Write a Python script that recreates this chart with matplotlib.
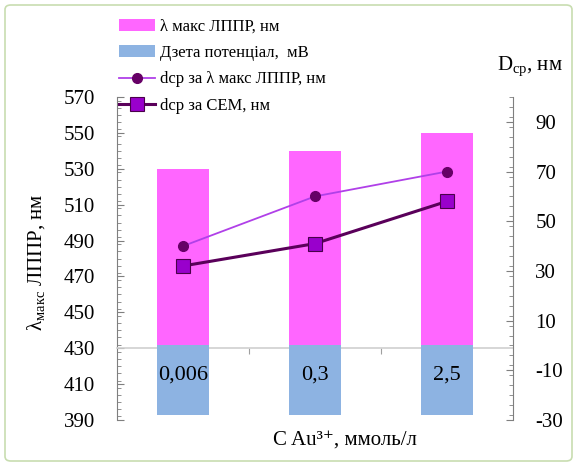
import numpy as np
import matplotlib.pyplot as plt
from matplotlib.ticker import MultipleLocator
from matplotlib.patches import FancyBboxPatch
from matplotlib.transforms import blended_transform_factory

plt.rcParams['font.family'] = ['Liberation Serif', 'DejaVu Serif']
plt.rcParams['mathtext.fontset'] = 'custom'
plt.rcParams['mathtext.rm'] = 'Liberation Serif'
plt.rcParams['mathtext.it'] = 'Liberation Serif:italic'
plt.rcParams['axes.unicode_minus'] = False

# data
conc = ['0,006', '0,3', '2,5']
lam_max = [530, 540, 550]          # λ макс ЛППР, нм (left axis)
zeta = [-28, -28, -28]             # Дзета потенціал, мВ (right axis)
d_lam = [40, 60, 70]               # dcp за λ макс ЛППР, нм (right axis)
d_sem = [32, 41, 58]               # dcp за СЕМ, нм (right axis)

x = np.arange(len(conc))
base = 430

fig = plt.figure(figsize=(5.77, 4.66), dpi=100)
ax = fig.add_axes([117/577, 1-420/466, 396/577, 323/466])
ax2 = ax.twinx()

bars1 = ax.bar(x, np.array(lam_max) - base, bottom=base, width=0.4,
               color='#ff66ff', zorder=2)
bars2 = ax2.bar(x, zeta, width=0.4, color='#8db3e2', zorder=2)
l1, = ax2.plot(x, d_lam, color='#b040e8', lw=1.3, marker='o', ms=7,
               mfc='#660066', mec='#660066', zorder=4)
l2, = ax2.plot(x, d_sem, color='#5a005a', lw=2.2, marker='s', ms=10,
               mfc='#9900cc', mec='#4a004a', mew=0.8, zorder=4)

ax.set_xlim(-0.5, 2.5)
ax.set_ylim(390, 570)
ax2.set_ylim(-30, 100)
ax.set_yticks(np.arange(390, 571, 20))
ax2.set_yticks(np.arange(-30, 91, 20))
ax.yaxis.set_minor_locator(MultipleLocator(4))
ax2.yaxis.set_minor_locator(MultipleLocator(4))

for s in ['top', 'right']:
    ax.spines[s].set_visible(False)
for s in ['top', 'left', 'bottom']:
    ax2.spines[s].set_visible(False)
ax.spines['left'].set_color('#7f7f7f')
ax2.spines['right'].set_color('#7f7f7f')
ax.spines['bottom'].set_position(('data', base))
ax.spines['bottom'].set_color('#d0d0d0')
ax.spines['bottom'].set_linewidth(1.2)

ax.tick_params(axis='y', which='major', direction='in', length=5,
               color='#7f7f7f', labelsize=15, pad=16)
ax.tick_params(axis='y', which='minor', direction='in', length=3,
               color='#7f7f7f')
ax2.tick_params(axis='y', which='major', direction='in', length=5,
                color='#7f7f7f', labelsize=15, pad=16)
ax2.tick_params(axis='y', which='minor', direction='in', length=3,
                color='#7f7f7f')

ax.set_xticks([0.5, 1.5])
ax.set_xticklabels([])
ax.tick_params(axis='x', which='major', direction='out', length=4,
               color='#9f9f9f')

# category labels sit on top of the zeta bars, so draw them on the twin axes
trans = blended_transform_factory(ax2.transData, ax2.transAxes)
for xi, lab in zip(x, conc):
    ax2.text(xi, (420-375)/323, lab, transform=trans, ha='center',
             va='center', fontsize=16, zorder=5)

fig.text(36/577, 1-262/466, r'λ$_{\mathrm{макс}}$ ЛППР, нм', rotation=90,
         ha='center', va='center', fontsize=15)
fig.text(530/577, 1-66/466, r'D$_{\mathrm{ср}}$, нм', ha='center',
         va='center', fontsize=15)
fig.text(345/577, 1-440/466, 'C Au³⁺, ммоль/л', ha='center',
         va='center', fontsize=15)

fig.legend([bars1, bars2, l1, l2],
           ['λ макс ЛППР, нм', 'Дзета потенціал,  мВ',
            'dcp за λ макс ЛППР, нм', 'dcp за СЕМ, нм'],
           loc='upper left', bbox_to_anchor=(112/577, 1-12/466),
           frameon=False, fontsize=12, handlelength=2.2,
           handletextpad=0.25, labelspacing=0.62, borderaxespad=0)

fig.patches.append(FancyBboxPatch((5/577, 5/466), 567/577, 456/466,
                                  boxstyle='round,pad=0,rounding_size=0.01',
                                  transform=fig.transFigure, fill=False,
                                  ec='#c8ddb0', lw=1.2))

fig.savefig('out.png', dpi=100)
